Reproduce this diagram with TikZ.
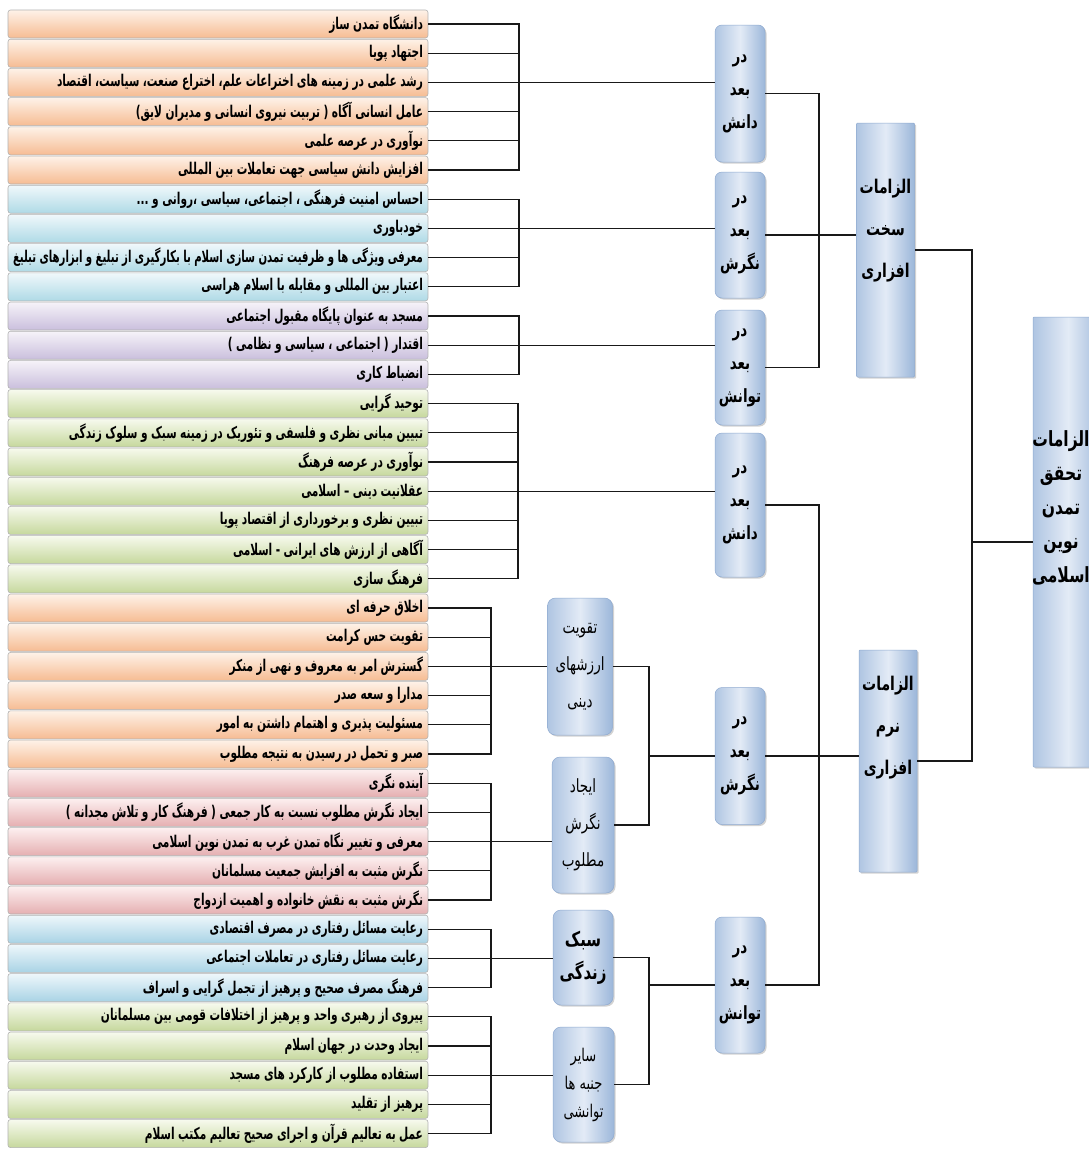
\documentclass[tikz,border=0pt]{standalone}
\usepackage{fontspec}
\usepackage{graphicx}
\newfontfamily\fa[Script=Arabic]{DejaVu Sans}
\TeXXeTstate=1
\usetikzlibrary{shadows}
\definecolor{oL}{HTML}{FEF2E8}\definecolor{oD}{HTML}{F6BC93}
\definecolor{cL}{HTML}{F0F8FB}\definecolor{cD}{HTML}{AFDAE6}
\definecolor{pL}{HTML}{F6F3F9}\definecolor{pD}{HTML}{CABFDD}
\definecolor{gL}{HTML}{F7FAEE}\definecolor{gD}{HTML}{C6D89D}
\definecolor{kL}{HTML}{FDF0F0}\definecolor{kD}{HTML}{E5AFB1}
\definecolor{bL}{HTML}{EEF7FB}\definecolor{bD}{HTML}{A9D3E5}
\definecolor{nbA}{HTML}{AFC5E2}\definecolor{nbB}{HTML}{9CB7DA}\definecolor{nbM}{HTML}{E3EBF6}
\definecolor{nbE}{HTML}{8FAAD0}
\newsavebox\fitbox
\newcommand\fitR[1]{\sbox\fitbox{\scalebox{0.88}[1.35]{#1}}\ifdim\wd\fitbox>410pt\resizebox{410pt}{\height}{\usebox\fitbox}\else\usebox\fitbox\fi}
\newcommand\tall[1]{\scalebox{1}[1.35]{#1}}
\newcommand\mkrow[3]{\node[rowbox=#2] (r#1) at (218,{24+29.2*(#1-1)}) {\fitR{#3}};}
\newcommand\grp[5]{%
  \draw[conn] (r#1.east) -| (#3 |- r#2.east) -- (r#2.east);
  \pgfmathtruncatemacro\ga{#1+1}\pgfmathtruncatemacro\gb{#2-1}
  \foreach \i in {\ga,...,\gb} \draw[conn] (r\i.east) -- (#3 |- r\i.east);
  \draw[conn] (r#4.east) -- (#5.west |- r#4.east);}
\tikzset{
  rowbox/.style={draw=black!30, line width=0.6pt, rounded corners=2.5pt,
    top color=#1L, bottom color=#1D, text width=410pt, inner xsep=5pt, inner ysep=0pt,
    minimum height=28pt, align=right, font=\fa\bfseries\fontsize{12}{14}\selectfont},
  conn/.style={line width=1.1pt, black!90},
  blbox/.style={draw=nbE, line width=0.5pt, left color=nbA, right color=nbB, middle color=nbM,
    drop shadow={shadow xshift=1.5pt, shadow yshift=-1.5pt, opacity=0.35},
    inner sep=0pt, align=center},
  lvbox/.style={blbox, rounded corners=7pt, minimum width=50pt,
    font=\fa\bfseries\fontsize{13.5}{33}\selectfont},
  midbox/.style={blbox, rounded corners=8pt,
    font=\fa\fontsize{13.5}{37}\selectfont},
  bigbox/.style={blbox, rounded corners=1pt, minimum width=58pt},
  bigtxt/.style={align=center, inner sep=0pt, font=\fa\bfseries\fontsize{14}{42}\selectfont}
}
\begin{document}
\begin{tikzpicture}[x=1pt,y=-1pt]
\path[use as bounding box, clip] (0,0) rectangle (1089,1159);
\fill[white] (0,0) rectangle (1089,1159);
% rows
\mkrow{1}{o}{\beginR دانشگاه تمدن ساز\endR}
\mkrow{2}{o}{\beginR اجتهاد پویا\endR}
\mkrow{3}{o}{\beginR رشد علمی در زمینه های اختراعات علم، اختراع صنعت، سیاست، اقتصاد\endR}
\mkrow{4}{o}{\beginR عامل انسانی آگاه ( تربیت نیروی انسانی و مدیران لایق)\endR}
\mkrow{5}{o}{\beginR نوآوری در عرصه علمی\endR}
\mkrow{6}{o}{\beginR افزایش دانش سیاسی جهت تعاملات بین المللی\endR}
\mkrow{7}{c}{\beginR احساس امنیت فرهنگی ، اجتماعی، سیاسی ،روانی و ...\endR}
\mkrow{8}{c}{\beginR خودباوری\endR}
\mkrow{9}{c}{\beginR معرفی ویژگی ها و ظرفیت تمدن سازی اسلام با بکارگیری از تبلیغ و ابزارهای تبلیغ\endR}
\mkrow{10}{c}{\beginR اعتبار بین المللی و مقابله با اسلام هراسی\endR}
\mkrow{11}{p}{\beginR مسجد به عنوان پایگاه مقبول اجتماعی\endR}
\mkrow{12}{p}{\beginR اقتدار ( اجتماعی ، سیاسی و نظامی )\endR}
\mkrow{13}{p}{\beginR انضباط کاری\endR}
\mkrow{14}{g}{\beginR توحید گرایی\endR}
\mkrow{15}{g}{\beginR تبیین مبانی نظری و فلسفی و تئوریک در زمینه سبک و سلوک زندگی\endR}
\mkrow{16}{g}{\beginR نوآوری در عرصه فرهنگ\endR}
\mkrow{17}{g}{\beginR عقلانیت دینی – اسلامی\endR}
\mkrow{18}{g}{\beginR تبیین نظری و برخورداری از اقتصاد پویا\endR}
\mkrow{19}{g}{\beginR آگاهی از ارزش های ایرانی - اسلامی\endR}
\mkrow{20}{g}{\beginR فرهنگ سازی\endR}
\mkrow{21}{o}{\beginR اخلاق حرفه ای\endR}
\mkrow{22}{o}{\beginR تقویت حس کرامت\endR}
\mkrow{23}{o}{\beginR گسترش امر به معروف و نهی از منکر\endR}
\mkrow{24}{o}{\beginR مدارا و سعه صدر\endR}
\mkrow{25}{o}{\beginR مسئولیت پذیری و اهتمام داشتن به امور\endR}
\mkrow{26}{o}{\beginR صبر و تحمل در رسیدن به نتیجه مطلوب\endR}
\mkrow{27}{k}{\beginR آینده نگری\endR}
\mkrow{28}{k}{\beginR ایجاد نگرش مطلوب نسبت به کار جمعی ( فرهنگ کار و تلاش مجدانه )\endR}
\mkrow{29}{k}{\beginR معرفی و تغییر نگاه تمدن غرب به تمدن نوین اسلامی\endR}
\mkrow{30}{k}{\beginR نگرش مثبت به افزایش جمعیت مسلمانان\endR}
\mkrow{31}{k}{\beginR نگرش مثبت به نقش خانواده و اهمیت ازدواج\endR}
\mkrow{32}{b}{\beginR رعایت مسائل رفتاری در مصرف اقتصادی\endR}
\mkrow{33}{b}{\beginR رعایت مسائل رفتاری در تعاملات اجتماعی\endR}
\mkrow{34}{b}{\beginR فرهنگ مصرف صحیح و پرهیز از تجمل گرایی و اسراف\endR}
\mkrow{35}{g}{\beginR پیروی از رهبری واحد و پرهیز از اختلافات قومی بین مسلمانان\endR}
\mkrow{36}{g}{\beginR ایجاد وحدت در جهان اسلام\endR}
\mkrow{37}{g}{\beginR استفاده مطلوب از کارکرد های مسجد\endR}
\mkrow{38}{g}{\beginR پرهیز از تقلید\endR}
\mkrow{39}{g}{\beginR عمل به تعالیم قرآن و اجرای صحیح تعالیم مکتب اسلام\endR}
% level 3 nodes
\node[lvbox, minimum height=137pt] (hd) at (740,93.5) {\tall{\beginR در\endR}\\\tall{\beginR بعد\endR}\\\tall{\beginR دانش\endR}};
\node[lvbox, minimum height=126pt] (hn) at (740,235) {\tall{\beginR در\endR}\\\tall{\beginR بعد\endR}\\\tall{\beginR نگرش\endR}};
\node[lvbox, minimum height=115pt] (ht) at (740,367.5) {\tall{\beginR در\endR}\\\tall{\beginR بعد\endR}\\\tall{\beginR توانش\endR}};
\node[lvbox, minimum height=144pt] (sd) at (740,505) {\tall{\beginR در\endR}\\\tall{\beginR بعد\endR}\\\tall{\beginR دانش\endR}};
\node[lvbox, minimum height=137pt] (sn) at (740,756) {\tall{\beginR در\endR}\\\tall{\beginR بعد\endR}\\\tall{\beginR نگرش\endR}};
\node[lvbox, minimum height=136pt] (st) at (740,985) {\tall{\beginR در\endR}\\\tall{\beginR بعد\endR}\\\tall{\beginR توانش\endR}};
% mid nodes
\node[midbox, minimum width=65pt, minimum height=137pt] (sv) at (580,666.5) {\tall{\beginR تقویت\endR}\\\tall{\beginR ارزشهای\endR}\\\tall{\beginR دینی\endR}};
\node[midbox, minimum width=62pt, minimum height=136pt] (sa) at (583,825) {\tall{\beginR ایجاد\endR}\\\tall{\beginR نگرش\endR}\\\tall{\beginR مطلوب\endR}};
\node[midbox, minimum width=60pt, minimum height=95pt, font=\fa\bfseries\fontsize{15}{33}\selectfont] (sl) at (583,957.5) {\tall{\beginR سبک\endR}\\\tall{\beginR زندگی\endR}};
\node[midbox, minimum width=61pt, minimum height=115pt, font=\fa\fontsize{13}{28}\selectfont] (so) at (583.5,1084.5) {\tall{\beginR سایر\endR}\\\tall{\beginR جنبه ها\endR}\\\tall{\beginR توانشی\endR}};
% big nodes
\node[bigbox, minimum height=254pt] (hs) at (885.5,250) {};
\node[bigtxt] (hsT) at (885.5,231) {\tall{\beginR الزامات\endR}\\\tall{\beginR سخت\endR}\\\tall{\beginR افزاری\endR}};
\node[bigbox, minimum height=222pt] (ns) at (888,761) {};
\node[bigtxt] (nsT) at (888,728) {\tall{\beginR الزامات\endR}\\\tall{\beginR نرم\endR}\\\tall{\beginR افزاری\endR}};
\node[bigbox, minimum width=70pt, minimum height=450pt] (root) at (1068,542) {};
\node[bigtxt, font=\fa\bfseries\fontsize{15.5}{34}\selectfont] (rootT) at (1061,508) {\tall{\beginR الزامات\endR}\\\tall{\beginR تحقق\endR}\\\tall{\beginR تمدن\endR}\\\tall{\beginR نوین\endR}\\\tall{\beginR اسلامی\endR}};
% brackets
\coordinate (bA) at (519,0);
\coordinate (bB) at (518,0);
\coordinate (bC) at (491,0);
\coordinate (bD) at (649,0);
\coordinate (bE) at (819,0);
\coordinate (bF) at (972,0);
\grp{1}{6}{bA}{3}{hd}
\grp{7}{10}{bA}{8}{hn}
\grp{11}{13}{bA}{12}{ht}
\grp{14}{20}{bB}{17}{sd}
\grp{21}{26}{bC}{23}{sv}
\grp{27}{31}{bC}{29}{sa}
\grp{32}{34}{bC}{33}{sl}
\grp{35}{39}{bC}{37}{so}
\draw[conn] (sv.east) -| (bD |- sa.east) -- (sa.east);
\draw[conn] (bD |- sn.west) -- (sn.west);
\draw[conn] (sl.east) -| (bD |- so.east) -- (so.east);
\draw[conn] (bD |- st.west) -- (st.west);
\draw[conn] (hd.east) -| (bE |- ht.east) -- (ht.east);
\draw[conn] (hn.east) -- (hs.west |- hn.east);
\draw[conn] (sd.east) -| (bE |- st.east) -- (st.east);
\draw[conn] (sn.east) -- (ns.west |- sn.east);
\draw[conn] (hs.east) -| (bF |- ns.east) -- (ns.east);
\draw[conn] (bF |- root.west) -- (root.west);
\end{tikzpicture}
\end{document}
